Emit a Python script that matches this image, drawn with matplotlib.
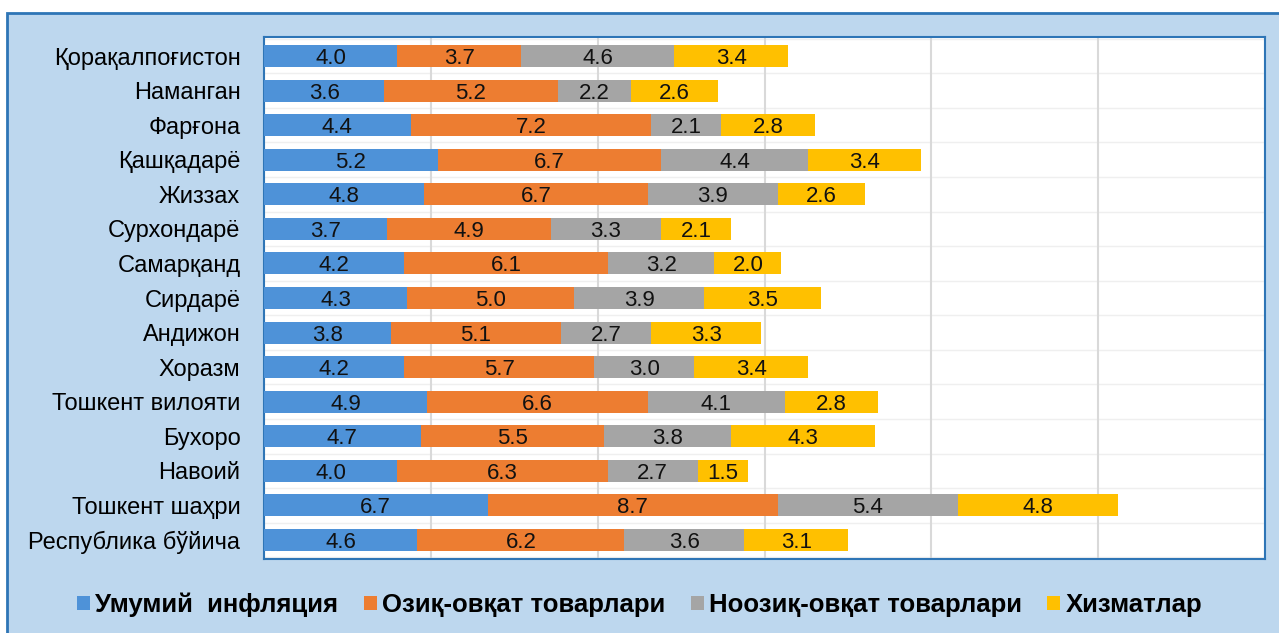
import matplotlib.pyplot as plt
import matplotlib.patches as patches
import numpy as np

regions = ["Қорақалпоғистон", "Наманган", "Фарғона", "Қашқадарё", "Жиззах",
           "Сурхондарё", "Самарқанд", "Сирдарё", "Андижон", "Хоразм",
           "Тошкент вилояти", "Бухоро", "Навоий", "Тошкент шаҳри", "Республика бўйича"]
umumiy = [4.0, 3.6, 4.4, 5.2, 4.8, 3.7, 4.2, 4.3, 3.8, 4.2, 4.9, 4.7, 4.0, 6.7, 4.6]
oziq = [3.7, 5.2, 7.2, 6.7, 6.7, 4.9, 6.1, 5.0, 5.1, 5.7, 6.6, 5.5, 6.3, 8.7, 6.2]
noozik = [4.6, 2.2, 2.1, 4.4, 3.9, 3.3, 3.2, 3.9, 2.7, 3.0, 4.1, 3.8, 2.7, 5.4, 3.6]
xizmat = [3.4, 2.6, 2.8, 3.4, 2.6, 2.1, 2.0, 3.5, 3.3, 3.4, 2.8, 4.3, 1.5, 4.8, 3.1]
series_names = ["Умумий  инфляция", "Озиқ-овқат товарлари", "Ноозиқ-овқат товарлари", "Хизматлар"]
colors = ["#4e92d8", "#ed7d31", "#a5a5a5", "#ffc000"]

plt.rcParams['font.family'] = ['Liberation Sans', 'DejaVu Sans']

fig = plt.figure(figsize=(12.79, 6.33), dpi=100)
fig.patch.set_facecolor("white")
fig.patches.append(patches.Rectangle((7 / 1279, -0.01), 1.02, 0.9795 + 0.01,
                                     transform=fig.transFigure, facecolor="#bdd7ee",
                                     edgecolor="#2e75b6", linewidth=2, zorder=-5))

ax = fig.add_axes([264 / 1279, 74 / 633, 1001 / 1279, 522 / 633])
ax.set_facecolor("white")
ax.set_zorder(2)

y = np.arange(len(regions))
left = np.zeros(len(regions))
for vals, name, c in zip([umumiy, oziq, noozik, xizmat], series_names, colors):
    bars = ax.barh(y, vals, left=left, height=0.64, color=c, label=name, zorder=3)
    texts = ax.bar_label(bars, labels=[f"{v:.1f}" for v in vals], label_type="center",
                         fontsize=16, color="#111111")
    for t in texts:
        t.set_va("center_baseline")
    left += np.array(vals)

ax.set_xlim(0, 30)
ax.set_ylim(len(regions) - 0.45, -0.55)
ax.set_xticks(np.arange(0, 31, 5))
ax.set_xticklabels([])
ax.tick_params(length=0)
ax.set_yticks(y)
ax.set_yticklabels(regions, fontsize=17)
ax.tick_params(axis="y", pad=17)
ax.grid(axis="x", color="#d9d9d9", linewidth=1.5, zorder=0)
for yy in np.arange(-0.5, len(regions), 1):
    ax.axhline(yy, color="#efefef", linewidth=1, zorder=1)
for s in ax.spines.values():
    s.set_color("#2e75b6")
    s.set_linewidth(1.5)

leg = fig.legend(loc="center", bbox_to_anchor=(0.5, 1 - 605 / 633), ncol=4,
                 frameon=False, handlelength=0.5, handleheight=0.5,
                 handletextpad=0.2, columnspacing=1.0,
                 prop={"weight": "bold", "size": 18.5})

plt.savefig("out.png", dpi=100)
